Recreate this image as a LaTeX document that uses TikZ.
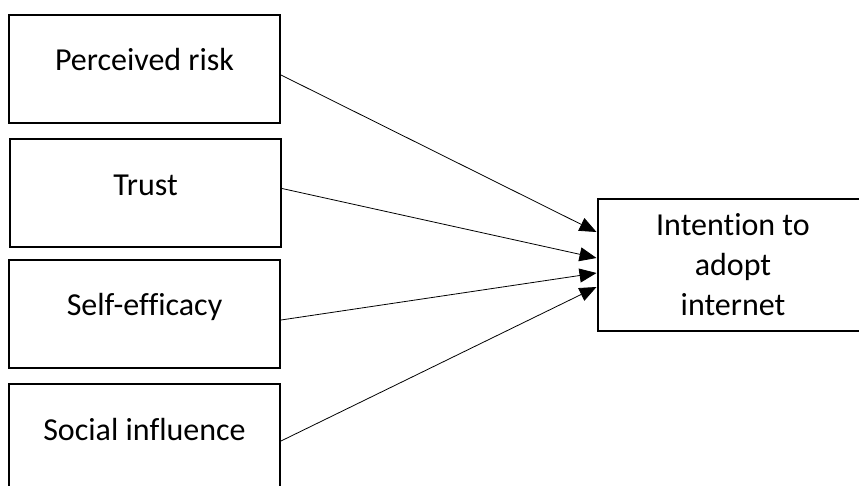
\documentclass[tikz,border=0pt]{standalone}
\usepackage{fontspec}
\setmainfont{Carlito}[Ligatures=NoCommon]
\usepackage{tikz}
\usetikzlibrary{arrows.meta,positioning}

\begin{document}
\begin{tikzpicture}[
    x=1pt, y=-1pt,
    factor/.style={rectangle, draw, line width=2pt, minimum width=271pt, minimum height=108pt, text height=22pt, text depth=18pt, font=\fontsize{32}{40}\selectfont},
    outcome/.style={rectangle, draw, line width=2pt, minimum width=271pt, minimum height=132pt, align=center, font=\fontsize{32}{40}\selectfont},
    arrow/.style={-{Triangle[length=17pt, width=14pt]}, line width=0.8pt}
]
\useasboundingbox (0,0) rectangle (859,486);
\clip (0,0) rectangle (859,486);

% Factors on the left
\node[factor] (risk) at (144.5,69) {Perceived risk};
\node[factor] (trust) at (145.5,193.5) {Trust};
\node[factor] (efficacy) at (144.5,314) {Self-efficacy};
\node[factor] (social) at (144.5,438) {Social influence};

% Outcome
\node[outcome] (intention) at (733,265) {Intention to\\adopt\\internet};

\draw[arrow] ([yshift=-6pt]risk.east) -- ([yshift=33pt]intention.west);
\draw[arrow] ([yshift=5pt]trust.east) -- ([yshift=7pt]intention.west);
\draw[arrow] ([yshift=-6pt]efficacy.east) -- ([yshift=-8pt]intention.west);
\draw[arrow] ([yshift=-3pt]social.east) -- ([yshift=-22pt]intention.west);

\end{tikzpicture}
\end{document}
